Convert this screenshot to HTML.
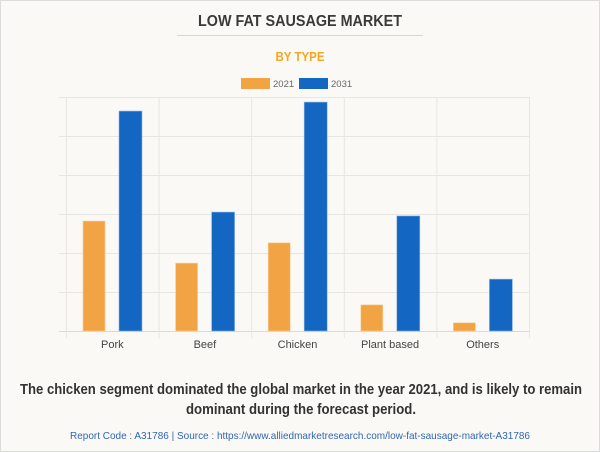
<!DOCTYPE html>
<html><head><meta charset="utf-8"><style>
html,body{margin:0;padding:0;background:#faf9f5;}
svg{display:block;font-family:"Liberation Sans",sans-serif;}
</style></head><body>
<svg width="600" height="452" viewBox="0 0 600 452">
<rect x="0.5" y="0.5" width="599" height="451" fill="#faf9f5" stroke="#dcdcdc"/>
<text x="300" y="26" text-anchor="middle" font-size="16" font-weight="bold" fill="#3a3a3a" textLength="204" lengthAdjust="spacingAndGlyphs">LOW FAT SAUSAGE MARKET</text>
<line x1="177" y1="35.5" x2="423" y2="35.5" stroke="#d6d6d6"/>
<text x="300" y="61" text-anchor="middle" font-size="13" font-weight="bold" fill="#f5a623" textLength="49" lengthAdjust="spacingAndGlyphs">BY TYPE</text>
<g>
<rect x="241" y="78" width="29" height="11" fill="#f2a444"/>
<text x="273" y="87" font-size="9.5" fill="#666">2021</text>
<rect x="299" y="78" width="29" height="11" fill="#1366c1"/>
<text x="331" y="87" font-size="9.5" fill="#666">2031</text>
</g>
<g id="plot"></g>
<text x="301" y="394" text-anchor="middle" font-size="15" font-weight="bold" fill="#333" textLength="562" lengthAdjust="spacingAndGlyphs">The chicken segment dominated the global market in the year 2021, and is likely to remain</text>
<text x="301" y="414" text-anchor="middle" font-size="15" font-weight="bold" fill="#333" textLength="230" lengthAdjust="spacingAndGlyphs">dominant during the forecast period.</text>
<text x="300" y="439" text-anchor="middle" font-size="10.5" fill="#2f67b4" textLength="460" lengthAdjust="spacingAndGlyphs">Report Code : A31786  |  Source : https://www.alliedmarketresearch.com/low-fat-sausage-market-A31786</text>
</svg>
<script>
const categories = ["Pork","Beef","Chicken","Plant based","Others"];
const values2021 = [2.82,1.74,2.26,0.67,0.21];
const values2031 = [5.64,3.05,5.87,2.95,1.33];
const gridTicks = [0,1,2,3,4,5,6];

const NS="http://www.w3.org/2000/svg";
const plot=document.getElementById('plot');
const x0=66,x1=529,yBase=331,yTop=97,yMax=6;
const bandW=(x1-x0)/categories.length;
function yScale(v){return yBase-(v/yMax)*(yBase-yTop);}
function xBand(i){return x0+i*bandW;}
function mk(tag,attrs){const e=document.createElementNS(NS,tag);for(const k in attrs)e.setAttribute(k,attrs[k]);plot.appendChild(e);return e;}
gridTicks.forEach(t=>{
  const l=mk('line',{x1:59,x2:x1,y1:yScale(t)+0.5,y2:yScale(t)+0.5,stroke:t===0?'#d9d9d9':'#e6e6e2','stroke-width':1});
  
  
});
for(let i=0;i<=categories.length;i++){
  const l=mk('line',{x1:xBand(i)+0.5,x2:xBand(i)+0.5,y1:yTop,y2:yBase+7,stroke:'#e6e6e2','stroke-width':1});
  
  
}
categories.forEach((c,i)=>{
  const bx=xBand(i);
  const a=mk('rect',{x:bx+17,y:yScale(values2021[i]),width:22,height:yBase-yScale(values2021[i]),fill:'#f2a444',stroke:'#f8cf9a','stroke-width':0.6});
  
  
  const b=mk('rect',{x:bx+53,y:yScale(values2031[i]),width:23,height:yBase-yScale(values2031[i]),fill:'#1366c1',stroke:'#8fb5e3','stroke-width':0.6});
  
  
  const t=mk('text',{x:bx+bandW/2,y:348,'text-anchor':'middle','font-size':11,fill:'#444'});
  t.textContent=c;
  
  
});
</script>
</body></html>
